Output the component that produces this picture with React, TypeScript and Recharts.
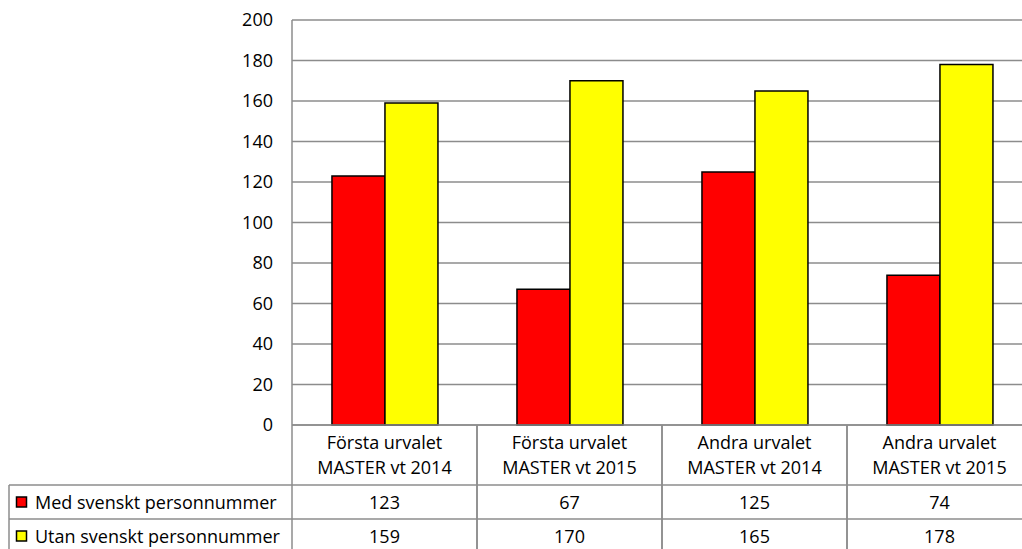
import React from 'react';
import { BarChart, Bar, XAxis, YAxis, CartesianGrid } from 'recharts';

const categories = [
  'Första urvalet\nMASTER vt 2014',
  'Första urvalet\nMASTER vt 2015',
  'Andra urvalet\nMASTER vt 2014',
  'Andra urvalet\nMASTER vt 2015',
];
const medSvensktPersonnummer = [123, 67, 125, 74];
const utanSvensktPersonnummer = [159, 170, 165, 178];
const seriesNames = ['Med svenskt personnummer', 'Utan svenskt personnummer'];
const seriesColors = ['#FF0000', '#FFFF00'];
const yTicks = [0, 20, 40, 60, 80, 100, 120, 140, 160, 180, 200];

const data = categories.map((c, i) => ({
  category: c,
  med: medSvensktPersonnummer[i],
  utan: utanSvensktPersonnummer[i],
}));
const seriesValues = [medSvensktPersonnummer, utanSvensktPersonnummer];

const FONT = '"Open Sans", Lato, sans-serif';
const FS = 18;
const GRID = '#8c8c8c';
const CHART_W = 1040;
const CHART_H = 560;
const PLOT_LEFT = 292;
const PLOT_RIGHT = 1032;
const BAND = (PLOT_RIGHT - PLOT_LEFT) / categories.length;

const TableTick = (props: any) => {
  const { x, y, payload } = props;
  const lines = String(payload.value).split('\n');
  const idx = categories.indexOf(payload.value);
  const half = BAND / 2;
  return (
    <g>
      <line x1={x - half} x2={x - half} y1={y} y2={y + 140} stroke={GRID} strokeWidth={1.5} />
      <line x1={x + half} x2={x + half} y1={y} y2={y + 140} stroke={GRID} strokeWidth={1.5} />
      <line x1={x - half} x2={x + half} y1={y + 60} y2={y + 60} stroke={GRID} strokeWidth={1.5} />
      <line x1={x - half} x2={x + half} y1={y + 94} y2={y + 94} stroke={GRID} strokeWidth={1.5} />
      <text x={x} y={y + 17} textAnchor="middle" dominantBaseline="central" fontFamily={FONT} fontSize={FS} fill="#000">
        {lines[0]}
      </text>
      <text x={x} y={y + 42} textAnchor="middle" dominantBaseline="central" fontFamily={FONT} fontSize={FS} fill="#000">
        {lines[1]}
      </text>
      {seriesValues.map((vals, s) => (
        <text key={s} x={x} y={y + 77 + s * 34} textAnchor="middle" dominantBaseline="central" fontFamily={FONT} fontSize={FS} fill="#000">
          {vals[idx]}
        </text>
      ))}
    </g>
  );
};

export default function App() {
  return (
    <div style={{ position: 'absolute', left: 0, top: 0, width: 1022, height: 549, overflow: 'hidden', background: '#fff' }}>
      <BarChart
        width={CHART_W}
        height={CHART_H}
        data={data}
        margin={{ top: 20, right: CHART_W - PLOT_RIGHT, left: PLOT_LEFT - 60, bottom: 0 }}
        barCategoryGap="21.6%"
        barGap={0}
      >
        <CartesianGrid vertical={false} stroke={GRID} strokeWidth={1.5} />
        <XAxis
          dataKey="category"
          height={CHART_H - 20 - 405}
          interval={0}
          tickSize={0}
          tickMargin={0}
          axisLine={{ stroke: GRID, strokeWidth: 1.5 }}
          tickLine={false}
          tick={<TableTick />}
        />
        <YAxis
          width={60}
          domain={[0, 200]}
          ticks={yTicks}
          interval={0}
          tickSize={0}
          tickMargin={19}
          axisLine={{ stroke: GRID, strokeWidth: 1.5 }}
          tickLine={false}
          tick={{ fontFamily: FONT, fontSize: FS, fill: '#000' }}
        />
        <Bar dataKey="med" name={seriesNames[0]} fill={seriesColors[0]} stroke="#000" strokeWidth={1.5} isAnimationActive={false} />
        <Bar dataKey="utan" name={seriesNames[1]} fill={seriesColors[1]} stroke="#000" strokeWidth={1.5} isAnimationActive={false} />
      </BarChart>
      <svg width={PLOT_LEFT + 1} height={549} style={{ position: 'absolute', left: 0, top: 0 }}>
        <line x1={9} x2={PLOT_LEFT} y1={485} y2={485} stroke={GRID} strokeWidth={1.5} />
        <line x1={9} x2={PLOT_LEFT} y1={519} y2={519} stroke={GRID} strokeWidth={1.5} />
        <line x1={9} x2={9} y1={485} y2={560} stroke={GRID} strokeWidth={1.5} />
        {seriesNames.map((n, s) => (
          <g key={n}>
            <rect x={16.5} y={497 + s * 34} width={10} height={10} fill={seriesColors[s]} stroke="#000" strokeWidth={1.5} />
            <text x={35} y={502 + s * 34} dominantBaseline="central" fontFamily={FONT} fontSize={FS} fill="#000">
              {n}
            </text>
          </g>
        ))}
      </svg>
    </div>
  );
}
